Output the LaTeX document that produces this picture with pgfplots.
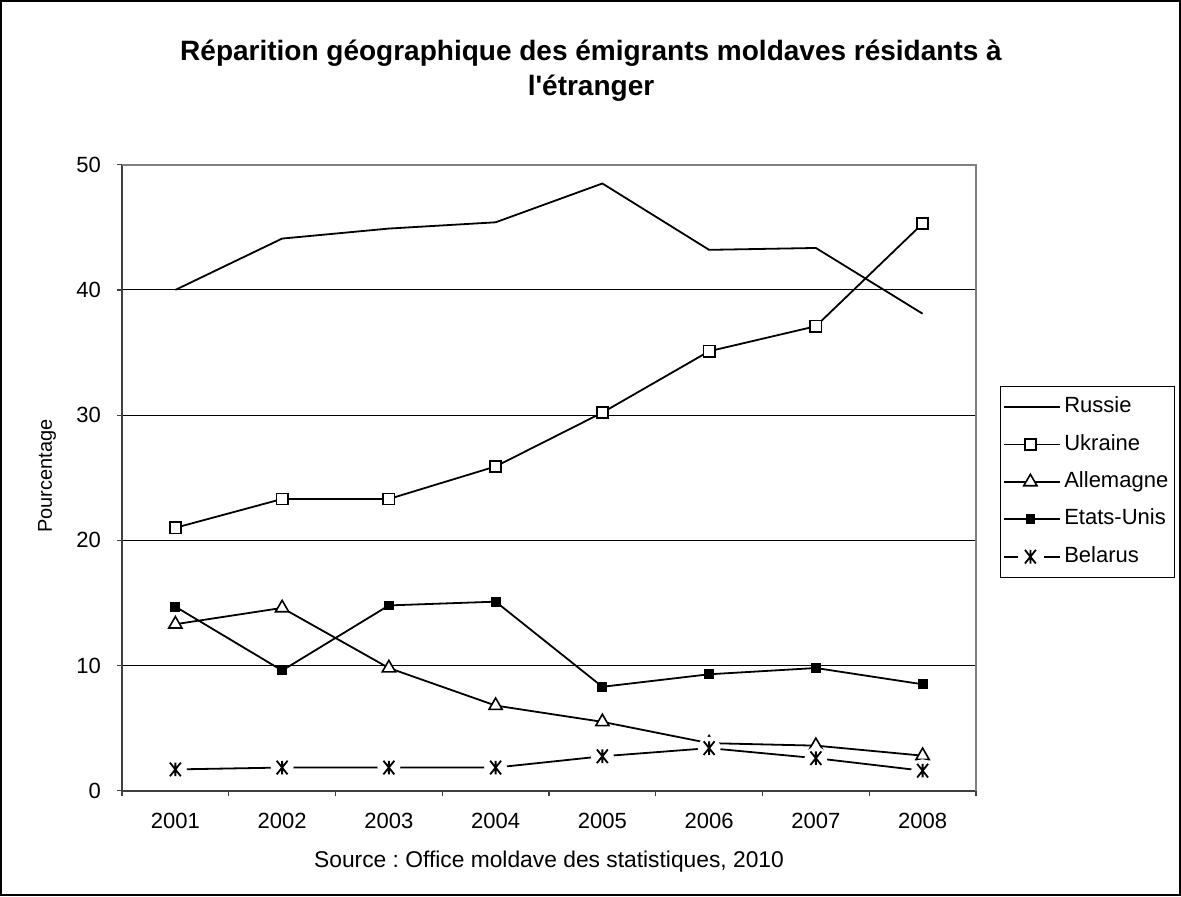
\documentclass[border=0pt]{standalone}
\usepackage{fontspec}
\setmainfont{Liberation Sans}
\usepackage{pgfplots}
\pgfplotsset{compat=1.18}
\pgfdeclareplotmark{xast}{%
  \pgfpathmoveto{\pgfpoint{-0.8\pgfplotmarksize}{-\pgfplotmarksize}}%
  \pgfpathlineto{\pgfpoint{0.8\pgfplotmarksize}{\pgfplotmarksize}}%
  \pgfpathmoveto{\pgfpoint{-0.8\pgfplotmarksize}{\pgfplotmarksize}}%
  \pgfpathlineto{\pgfpoint{0.8\pgfplotmarksize}{-\pgfplotmarksize}}%
  \pgfpathmoveto{\pgfpoint{0pt}{-\pgfplotmarksize}}%
  \pgfpathlineto{\pgfpoint{0pt}{\pgfplotmarksize}}%
  \pgfusepathqstroke}
\pgfplotsset{belaruslegend/.style={legend image code/.code={\draw[black,line width=0.9pt] (0pt,0pt)--(7pt,0pt) (20pt,0pt)--(28pt,0pt); \draw[black,line width=0.9pt,mark size=3.4pt] plot[mark=xast] coordinates {(13pt,0pt)};}}}
\begin{document}
\frenchspacing
\begin{tikzpicture}
\path[use as bounding box] (0,0) rectangle (590.5pt,448pt);
\draw[line width=1pt] (0.5pt,0.5pt) rectangle (590pt,447.5pt);
\node[align=center, font=\fontsize{14}{17.5}\selectfont\bfseries] at (295.5pt,412.5pt) {Réparition géographique des émigrants moldaves résidants à\\l\textquotesingle étranger};
\node[rotate=90, font=\fontsize{10}{12}\selectfont] at (23.5pt,210pt) {Pourcentage};
\node[font=\fontsize{11.4}{13}\selectfont] at (274.5pt,17pt) {Source : Office moldave des statistiques, 2010};
\begin{axis}[
  at={(61pt,52.65pt)}, anchor=south west,
  scale only axis, width=427pt, height=313pt,
  xmin=0.5, xmax=8.5, ymin=0, ymax=50,
  axis lines*=left,
  axis line style={line width=1pt, color=black!75},
  xtick={1,...,8},
  xticklabels={2001,2002,2003,2004,2005,2006,2007,2008},
  major x tick style={draw=none},
  minor xtick={0.5,1.5,...,8.5},
  ytick={0,10,...,50},
  tick align=outside,
  tick style={line width=0.6pt, black!75},
  major tick length=2.5pt, minor tick length=2.5pt,
  ymajorgrids,
  major grid style={line width=0.5pt, black},
  ticklabel style={font=\fontsize{11}{13}\selectfont},
  /pgf/number format/assume math mode=true,
  xticklabel style={yshift=-5pt},
  yticklabel style={xshift=-4.5pt},
  clip=false,
  legend image code/.code={\draw[mark repeat=2,mark phase=2,#1] plot coordinates {(0pt,0pt) (13pt,0pt) (28pt,0pt)};},
  legend cell align=left,
  legend style={at={(1.028,0.6465)}, anchor=north west, draw=black, line width=0.6pt,
    font=\fontsize{11}{13}\selectfont, row sep=4.2pt, inner xsep=1.5pt, inner ysep=3pt,
    nodes={inner xsep=1.5pt, inner ysep=2pt, text height=8pt, text depth=2.5pt, anchor=west}},
]
\draw[line width=1pt, black!50] (rel axis cs:0,1) -- (rel axis cs:1,1) -- (rel axis cs:1,0);

\addplot[black, line width=0.9pt, mark=none] coordinates {(1,40.0)(2,44.1)(3,44.9)(4,45.4)(5,48.5)(6,43.2)(7,43.35)(8,38.1)};
\addlegendentry{Russie}

\addplot[black, line width=0.9pt, mark=square*, mark size=2.8pt, mark options={fill=white, line width=0.8pt}] coordinates {(1,21.0)(2,23.3)(3,23.3)(4,25.9)(5,30.2)(6,35.1)(7,37.1)(8,45.3)};
\addlegendentry{Ukraine}

\addplot[black, line width=0.9pt, mark=triangle*, mark size=3.8pt, mark options={fill=white, line width=0.8pt}] coordinates {(1,13.3)(2,14.6)(3,9.8)(4,6.8)(5,5.5)(6,3.8)(7,3.6)(8,2.8)};
\addlegendentry{Allemagne}

\addplot[black, line width=0.9pt, mark=square*, mark size=2pt, mark options={fill=black}] coordinates {(1,14.7)(2,9.6)(3,14.8)(4,15.1)(5,8.3)(6,9.3)(7,9.8)(8,8.5)};
\addlegendentry{Etats-Unis}

\addplot[black, line width=0.9pt, mark=none, forget plot] coordinates {(1,1.7)(2,1.85)(3,1.85)(4,1.85)(5,2.75)(6,3.4)(7,2.6)(8,1.6)};
\addplot[only marks, mark=*, mark size=5.5pt, mark options={draw=white, fill=white}, forget plot] coordinates {(1,1.7)(2,1.85)(3,1.85)(4,1.85)(5,2.75)(6,3.4)(7,2.6)(8,1.6)};
\addplot[black, only marks, mark=xast, mark size=3.4pt, mark options={line width=0.9pt}, belaruslegend] coordinates {(1,1.7)(2,1.85)(3,1.85)(4,1.85)(5,2.75)(6,3.4)(7,2.6)(8,1.6)};
\addlegendentry{Belarus}
\end{axis}
\end{tikzpicture}
\end{document}
